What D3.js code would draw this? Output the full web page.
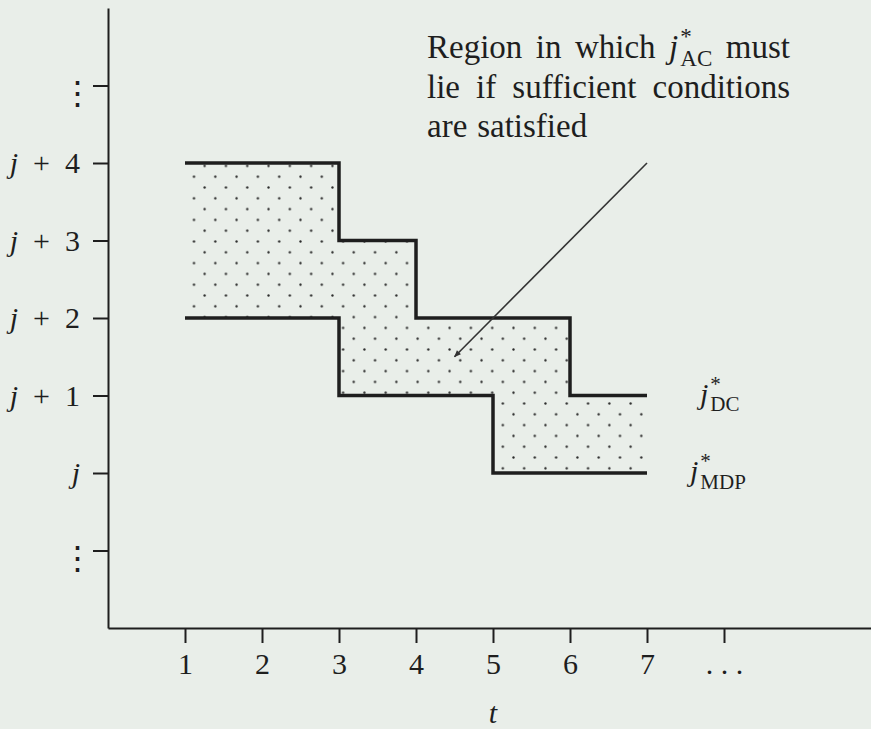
<!DOCTYPE html>
<html>
<head>
<meta charset="utf-8">
<script src="https://cdn.jsdelivr.net/npm/d3@7"></script>
<style>
  body { margin: 0; background: #e9eee9; }
</style>
</head>
<body>
<script>
/* -----------------------------------------------------
 *  Data
 ----------------------------------------------------- */
const tValues = [1, 2, 3, 4, 5, 6, 7];
const jDC = [4, 4, 3, 2, 2, 1, 1]; // upper step line
const jMDP = [2, 2, 1, 1, 0, 0, 0]; // lower step line
const xTicks = [1, 2, 3, 4, 5, 6, 7, 8];
const xTickLabels = ["1", "2", "3", "4", "5", "6", "7", ". . ."];
const yTicks = [-1, 0, 1, 2, 3, 4, 5];
const yTickLabels = ["⋮", "j", "j + 1", "j + 2", "j + 3", "j + 4", "⋮"];
const noteLines = [
  ["Region", "in", "which", "@AC", "must"],
  ["lie", "if", "sufficient", "conditions"],
  ["are", "satisfied"],
];
const arrowFrom = [7, 4];
const arrowTo = [4.5, 1.5];

/* -----------------------------------------------------
 *  Initial SVG setup
 ----------------------------------------------------- */
const width = 871;
const height = 729;
const serif = "'Liberation Serif', 'Times New Roman', serif";
const ink = "#1e1e1e";

const svg = d3
  .select("body")
  .append("svg")
  .attr("width", width)
  .attr("height", height)
  .style("font-family", serif);

svg.append("rect").attr("width", width).attr("height", height).attr("fill", "#e9eee9");

const x = d3.scaleLinear().domain([0, 10]).range([108, 878]);
const y = d3.scaleLinear().domain([-2, 6]).range([628, 8]);

// dotted fill pattern
const pw = 21.3, ph = 21.6;
const defs = svg.append("defs");
const pattern = defs
  .append("pattern")
  .attr("id", "dots")
  .attr("patternUnits", "userSpaceOnUse")
  .attr("x", 194 - pw / 4)
  .attr("y", 176.7 - ph / 4)
  .attr("width", pw)
  .attr("height", ph);
pattern.append("circle").attr("cx", pw / 4).attr("cy", ph / 4).attr("r", 1.15).attr("fill", "#2a2a2a");
pattern.append("circle").attr("cx", (3 * pw) / 4).attr("cy", (3 * ph) / 4).attr("r", 1.15).attr("fill", "#2a2a2a");

defs
  .append("marker")
  .attr("id", "head")
  .attr("viewBox", "0 0 10 10")
  .attr("refX", 9)
  .attr("refY", 5)
  .attr("markerWidth", 9)
  .attr("markerHeight", 7)
  .attr("markerUnits", "userSpaceOnUse")
  .attr("orient", "auto")
  .append("path")
  .attr("d", "M0,1L10,5L0,9Z")
  .attr("fill", "#333");

/* -----------------------------------------------------
 *  Axes
 ----------------------------------------------------- */
const xAxis = svg
  .append("g")
  .attr("transform", `translate(0,${y(-2)})`)
  .call(
    d3.axisBottom(x)
      .tickValues(xTicks)
      .tickFormat((d, i) => xTickLabels[i])
      .tickSize(15)
      .tickSizeOuter(0)
      .tickPadding(10)
  );

const yAxis = svg
  .append("g")
  .attr("transform", `translate(${x(0)},0)`)
  .call(
    d3.axisLeft(y)
      .tickValues(yTicks)
      .tickFormat((d, i) => yTickLabels[i])
      .tickSize(15)
      .tickSizeOuter(0)
      .tickPadding(13)
  );

[xAxis, yAxis].forEach((g) => {
  g.selectAll("path, line").attr("stroke", ink).attr("stroke-width", 2);
  g.selectAll("text").attr("fill", ink).style("font-family", serif).style("font-size", "30px");
});

// italic j in the y labels, vertical dots for the open ends
yAxis.selectAll(".tick text").each(function (d, i) {
  const label = yTickLabels[i];
  const t = d3.select(this);
  if (label.startsWith("j")) {
    t.text("");
    t.append("tspan").style("font-style", "italic").text("j");
    if (label.length > 1) t.append("tspan").text(label.slice(1).replace(/ /g, "\u2002"));
  } else {
    t.style("font-family", "'DejaVu Serif', serif")
      .style("font-size", "33px")
      .attr("dy", "0.59em")
      .attr("x", -14);
  }
});

/* -----------------------------------------------------
 *  Region and step lines
 ----------------------------------------------------- */
const rows = tValues.map((t, i) => ({ t, hi: jDC[i], lo: jMDP[i] }));

svg
  .append("path")
  .datum(rows)
  .attr("fill", "url(#dots)")
  .attr("d", d3.area().curve(d3.curveStepAfter).x((d) => x(d.t)).y0((d) => y(d.lo)).y1((d) => y(d.hi)));

const step = (key) => d3.line().curve(d3.curveStepAfter).x((d) => x(d.t)).y((d) => y(d[key]));
["hi", "lo"].forEach((key) => {
  svg
    .append("path")
    .datum(rows)
    .attr("fill", "none")
    .attr("stroke", ink)
    .attr("stroke-width", 3.5)
    .attr("d", step(key));
});

/* -----------------------------------------------------
 *  Labels
 ----------------------------------------------------- */
// j with a star on top and a subscript below it, all in one text element
function starLabel(parent, px, py, sub, size) {
  const g = parent.append("g").attr("transform", `translate(${px},${py})`);
  const t = g.append("text").attr("fill", ink).style("font-size", size + "px");
  const j = t.append("tspan").style("font-style", "italic").text("j");
  const jw = j.node().getComputedTextLength() + 2;
  t.append("tspan")
    .attr("x", jw)
    .attr("y", -size * 0.42)
    .style("font-size", size * 0.7 + "px")
    .text("*");
  const s = t.append("tspan")
    .attr("x", jw)
    .attr("y", size * 0.25)
    .style("font-size", size * 0.7 + "px")
    .text(sub);
  return { g, w: jw + s.node().getComputedTextLength() };
}

starLabel(svg, x(7) + 53, y(1) + 8, "DC", 30);
starLabel(svg, x(7) + 43, y(0) + 8, "MDP", 30);

svg
  .append("text")
  .attr("x", x(5))
  .attr("y", 723)
  .attr("text-anchor", "middle")
  .attr("fill", ink)
  .style("font-style", "italic")
  .style("font-size", "30px")
  .text("t");

// annotation, justified like the source
const noteLeft = 427, noteRight = 790, noteTop = 58, noteGap = 39.5, noteSize = 33;
noteLines.forEach((words, li) => {
  const items = words.map((w) => {
    if (w.startsWith("@")) return starLabel(svg, 0, noteTop + li * noteGap, w.slice(1), noteSize);
    const g = svg.append("g").attr("transform", `translate(0,${noteTop + li * noteGap})`);
    const t = g.append("text").attr("fill", ink).style("font-size", noteSize + "px").text(w);
    return { g, w: t.node().getComputedTextLength() };
  });
  const total = d3.sum(items, (d) => d.w);
  const last = li === noteLines.length - 1;
  const gap = last ? noteSize * 0.3 : (noteRight - noteLeft - total) / (items.length - 1);
  let cx = noteLeft;
  items.forEach((d) => {
    d.g.attr("transform", `translate(${cx},${noteTop + li * noteGap})`);
    cx += d.w + gap;
  });
});

svg
  .append("line")
  .attr("x1", x(arrowFrom[0]))
  .attr("y1", y(arrowFrom[1]))
  .attr("x2", x(arrowTo[0]))
  .attr("y2", y(arrowTo[1]))
  .attr("stroke", "#333")
  .attr("stroke-width", 1.6)
  .attr("marker-end", "url(#head)");
</script>
</body>
</html>
